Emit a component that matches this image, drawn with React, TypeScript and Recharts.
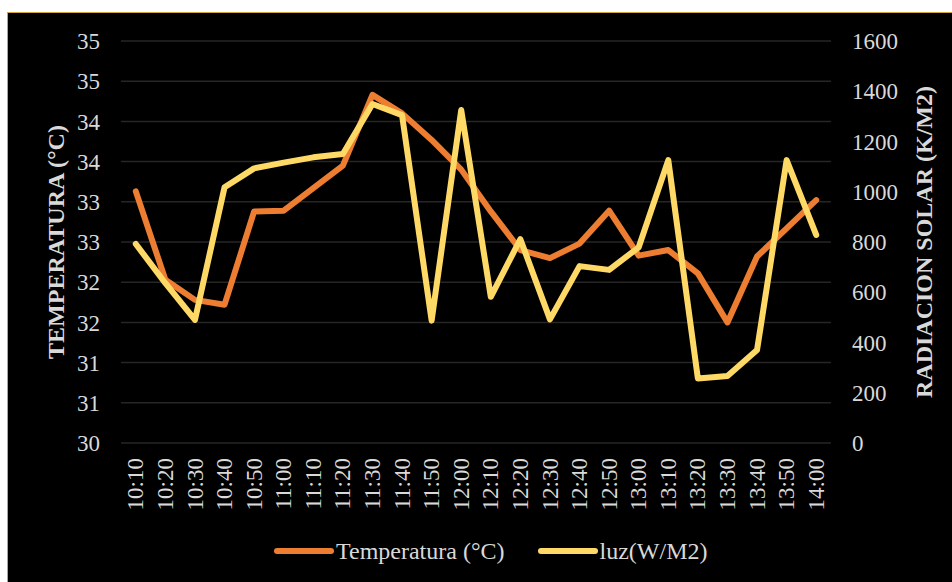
import React from 'react';
import { LineChart, Line, XAxis, YAxis, CartesianGrid, Legend } from 'recharts';

const times = [
    '10:10', '10:20', '10:30', '10:40', '10:50', '11:00', '11:10', '11:20',
    '11:30', '11:40', '11:50', '12:00', '12:10', '12:20', '12:30', '12:40',
    '12:50', '13:00', '13:10', '13:20', '13:30', '13:40', '13:50', '14:00',
];

const temperatura = [
    33.13, 32.03, 31.78, 31.72, 32.88, 32.89, 33.17, 33.45,
    34.33, 34.1, 33.77, 33.4, 32.88, 32.4, 32.3, 32.48,
    32.89, 32.33, 32.4, 32.11, 31.5, 32.32, 32.67, 33.02,
];

const luz = [
    792, 636, 490, 1018, 1093, 1116, 1137, 1150,
    1349, 1305, 487, 1325, 582, 811, 492, 704,
    689, 779, 1126, 257, 267, 370, 1126, 828,
];

const tempTicks = [30, 30.5, 31, 31.5, 32, 32.5, 33, 33.5, 34, 34.5, 35];
const luzTicks = [0, 200, 400, 600, 800, 1000, 1200, 1400, 1600];

const data = times.map((t, i) => ({ t, temperatura: temperatura[i], luz: luz[i] }));

const FONT = '"Liberation Serif", "Times New Roman", serif';
const TEXT = '#D9D9D9';
const ORANGE = '#ED7D31';
const YELLOW = '#FFD966';

const tickStyle = { fontSize: 23, fill: TEXT, fontFamily: FONT };

// vertical time labels, reading bottom to top
const TimeTick = (props: any) => {
    const { x, y, payload } = props;
    return (
        <text
            x={x}
            y={y}
            transform={`rotate(-90, ${x}, ${y})`}
            textAnchor="end"
            dy="0.33em"
            fontSize={23}
            fill={TEXT}
            fontFamily={FONT}
        >
            {payload.value}
        </text>
    );
};

const LegendContent = (props: any) => {
    const { payload } = props;
    return (
        <div style={{ display: 'flex', alignItems: 'center', height: 42, paddingLeft: 266 }}>
            {(payload || []).map((p: any, i: number) => (
                <div key={i} style={{ display: 'flex', alignItems: 'center', marginRight: 33 }}>
                    <svg width={60} height={10} style={{ marginRight: 2 }}>
                        <line x1={3} y1={5} x2={57} y2={5} stroke={p.color} strokeWidth={6} strokeLinecap="round" />
                    </svg>
                    <span style={{ fontSize: 24, color: TEXT, fontFamily: FONT, whiteSpace: 'nowrap' }}>{p.value}</span>
                </div>
            ))}
        </div>
    );
};

const App: React.FC = () => {
    return (
        <div style={{ position: 'relative', width: 952, height: 582, overflow: 'hidden', background: '#fff' }}>
            <style>{'body{margin:0;overflow:hidden}'}</style>
            <div
                style={{
                    position: 'absolute',
                    left: 7,
                    top: 12,
                    width: 945,
                    height: 570,
                    boxSizing: 'border-box',
                    background: '#000',
                    borderTop: '1px solid #D4A537',
                    borderLeft: '1px solid #D4A537',
                }}
            >
                <LineChart width={944} height={569} data={data} margin={{ top: 28, right: 0, left: 53, bottom: 10 }}>
                    <CartesianGrid yAxisId="left" vertical={false} stroke="#262626" strokeWidth={1.5} />
                    <XAxis
                        dataKey="t"
                        interval={0}
                        padding={{ left: 14.8, right: 14.8 }}
                        axisLine={false}
                        tickLine={false}
                        tickSize={0}
                        tickMargin={15}
                        height={87}
                        tick={<TimeTick />}
                    />
                    <YAxis
                        yAxisId="left"
                        domain={[30, 35]}
                        ticks={tempTicks}
                        tickFormatter={(v: number) => String(Math.round(v))}
                        axisLine={false}
                        tickLine={false}
                        tickSize={0}
                        tickMargin={21}
                        width={60}
                        tick={tickStyle}
                        label={{
                            value: 'TEMPERATURA (°C)',
                            angle: -90,
                            position: 'center',
                            dx: -36,
                            style: { fontSize: 24, fontWeight: 700, fill: TEXT, fontFamily: FONT },
                        }}
                    />
                    <YAxis
                        yAxisId="right"
                        orientation="right"
                        domain={[0, 1600]}
                        ticks={luzTicks}
                        axisLine={false}
                        tickLine={false}
                        tickSize={0}
                        tickMargin={21}
                        width={121}
                        tick={tickStyle}
                        label={{
                            value: 'RADIACION SOLAR (K/M2)',
                            angle: -90,
                            position: 'center',
                            dx: 31.5,
                            style: { fontSize: 24, fontWeight: 700, fill: TEXT, fontFamily: FONT },
                        }}
                    />
                    <Legend
                        verticalAlign="bottom"
                        height={42}
                        wrapperStyle={{ left: 0, width: 944 }}
                        content={<LegendContent />}
                    />
                    <Line
                        yAxisId="left"
                        type="linear"
                        dataKey="temperatura"
                        name="Temperatura (°C)"
                        stroke={ORANGE}
                        strokeWidth={6}
                        strokeLinejoin="round"
                        strokeLinecap="round"
                        dot={false}
                        activeDot={false}
                        isAnimationActive={false}
                    />
                    <Line
                        yAxisId="right"
                        type="linear"
                        dataKey="luz"
                        name="luz(W/M2)"
                        stroke={YELLOW}
                        strokeWidth={6}
                        strokeLinejoin="round"
                        strokeLinecap="round"
                        dot={false}
                        activeDot={false}
                        isAnimationActive={false}
                    />
                </LineChart>
            </div>
        </div>
    );
};

export default App;
